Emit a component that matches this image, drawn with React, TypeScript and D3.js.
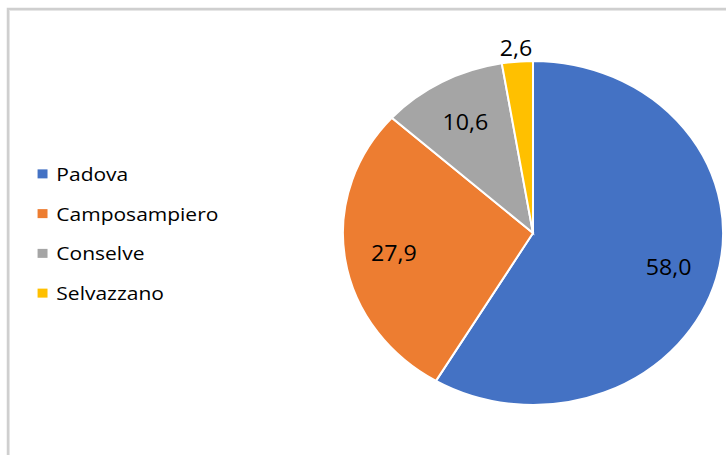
import React from "react";
import * as d3 from "d3";

const categories = ["Padova", "Camposampiero", "Conselve", "Selvazzano"];
const values = [58.0, 27.9, 10.6, 2.6];
const labels = ["58,0", "27,9", "10,6", "2,6"];
const colors = ["#4472C4", "#ED7D31", "#A5A5A5", "#FFC000"];
const title = "Degenze per sede (%)";

const W = 726;
const H = 455;
const SX = 1.105; // horizontal stretch of the original picture
const R = 172;
const CX = 533;
const CY = 233;
const FONT = "'Open Sans', 'Noto Sans', sans-serif";

export default function App() {
  const pie = d3.pie<number>().sort(null).value((d) => d)(values);
  const arc = d3.arc<d3.PieArcDatum<number>>().innerRadius(0).outerRadius(R);
  const labelArc = d3.arc<d3.PieArcDatum<number>>().innerRadius(R * 0.74).outerRadius(R * 0.74);
  const outArc = d3.arc<d3.PieArcDatum<number>>().innerRadius(R * 1.08).outerRadius(R * 1.08);

  const legendY = d3.scaleBand<string>().domain(categories).range([154, 313]);

  return (
    <svg
      width={W}
      height={H}
      style={{ position: "fixed", left: 0, top: 0, background: "#fff" }}
      fontFamily={FONT}
    >
      <rect x={0} y={0} width={W} height={H} fill="#fff" />
      <text x={497} y={-6} textAnchor="middle" fontWeight="bold" fontSize={24} fill="#000">
        {title}
      </text>
      <path d={`M8,${H} V9 H${W}`} fill="none" stroke="#cfcfcf" strokeWidth={2.5} />
      <path d={`M9.5,${H} V10.5 H${W}`} fill="none" stroke="#e6e6e6" strokeWidth={1} />

      <g transform={`translate(${CX},${CY}) scale(${SX},1)`}>
        {pie.map((p, i) => (
          <path
            key={categories[i]}
            d={arc(p) || ""}
            fill={colors[i]}
            stroke="#fff"
            strokeWidth={2}
            vectorEffect="non-scaling-stroke"
          />
        ))}
        {pie.map((p, i) => {
          const outside = p.endAngle - p.startAngle < 0.3;
          const [x, y] = outside ? outArc.centroid(p) : labelArc.centroid(p);
          return (
            <text
              key={"l" + i}
              x={x}
              y={y}
              textAnchor="middle"
              dominantBaseline="central"
              fontSize={21}
              fill="#000"
            >
              {labels[i]}
            </text>
          );
        })}
      </g>

      <g transform={`scale(${SX},1)`}>
        {categories.map((c, i) => {
          const y = (legendY(c) || 0) + legendY.bandwidth() / 2;
          return (
            <g key={c}>
              <rect x={34} y={y - 4.5} width={9} height={9} fill={colors[i]} />
              <text x={51} y={y} dominantBaseline="central" fontSize={19} fill="#000">
                {c}
              </text>
            </g>
          );
        })}
      </g>
    </svg>
  );
}
